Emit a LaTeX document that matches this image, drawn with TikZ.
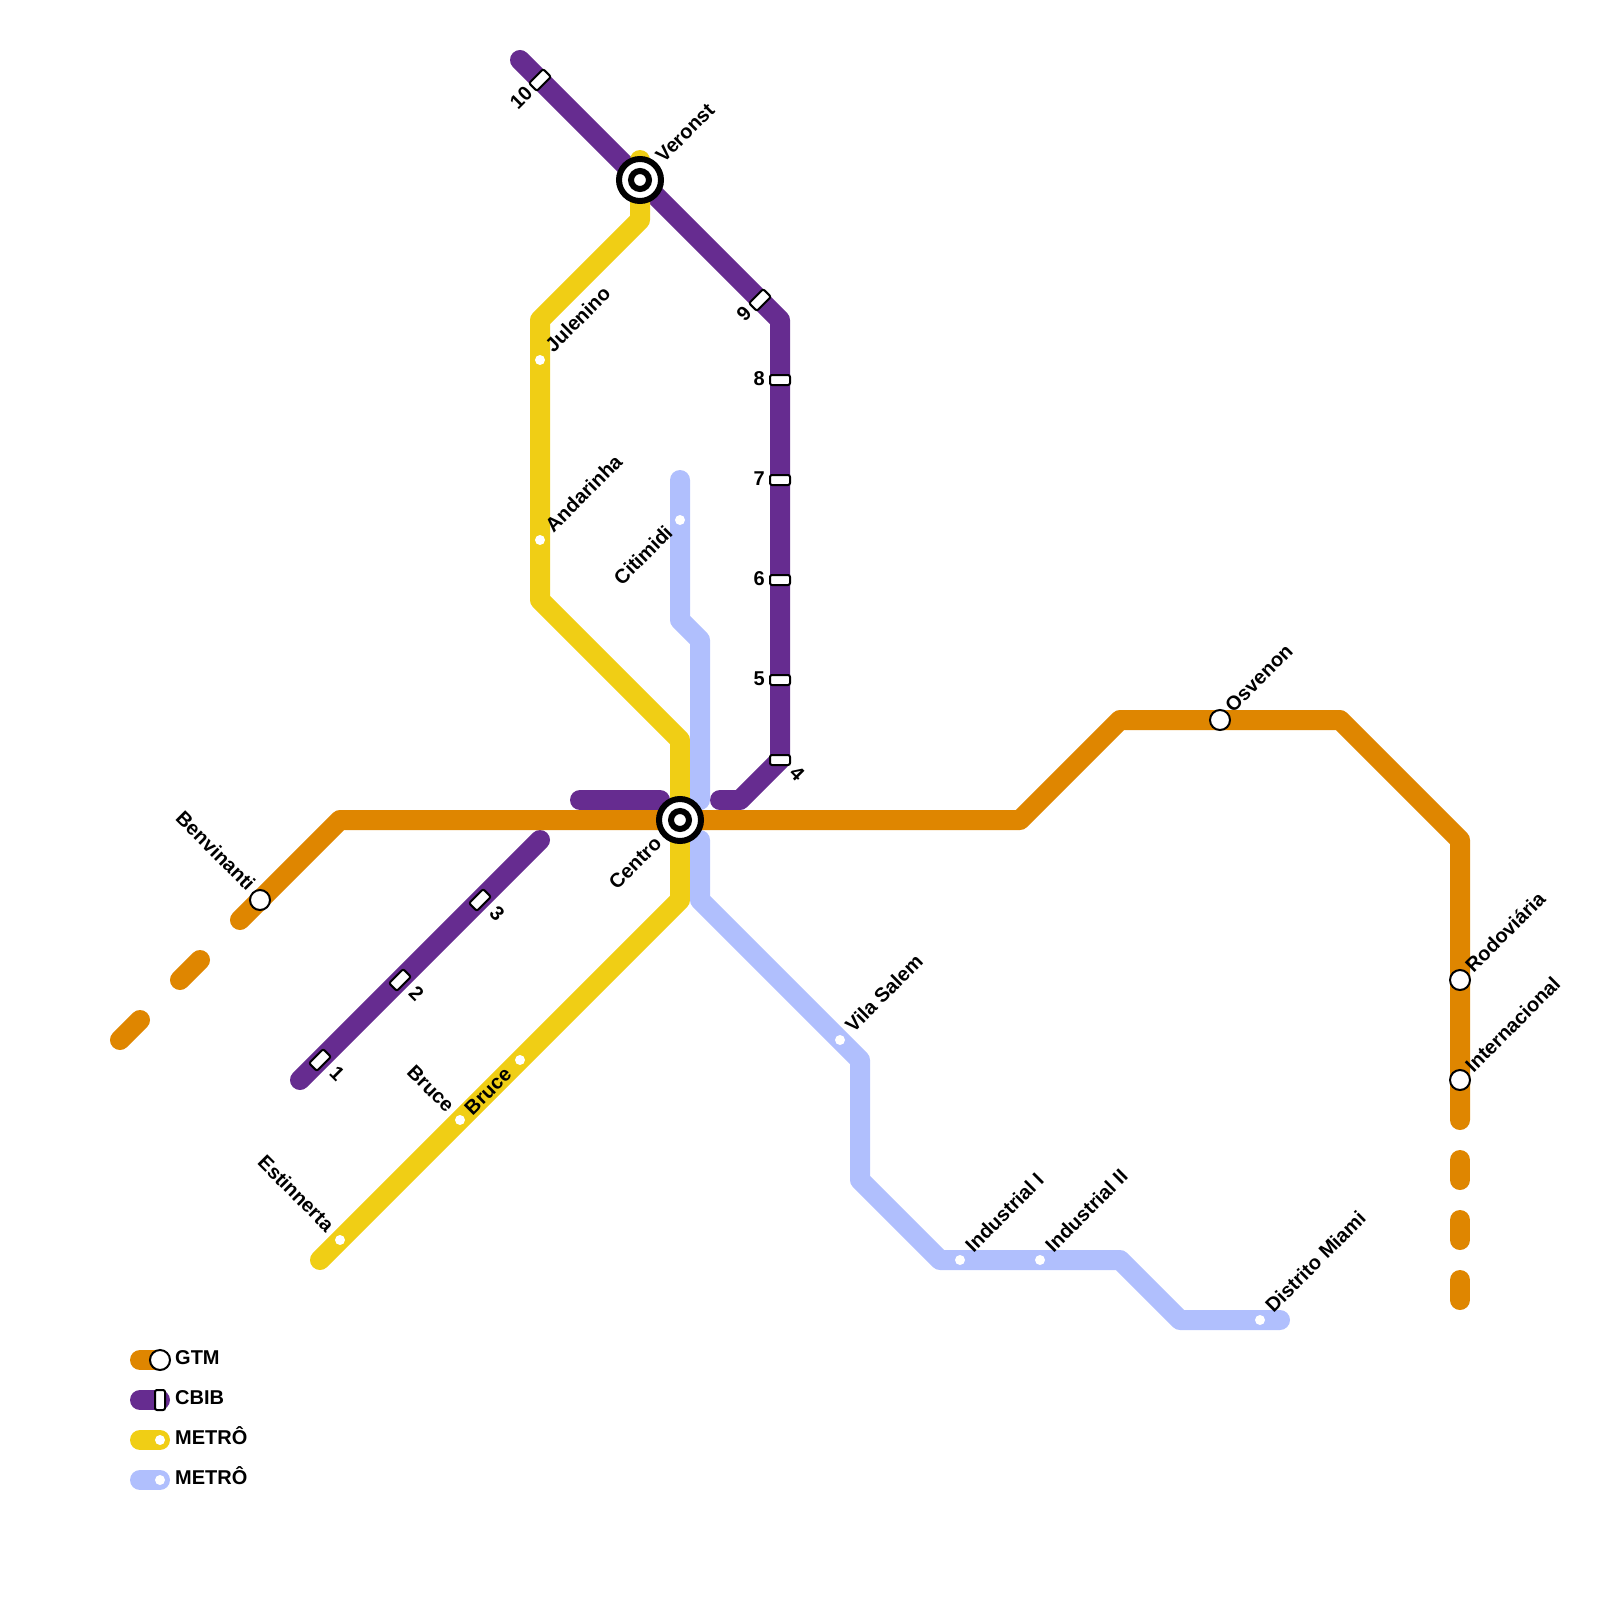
\documentclass[tikz,border=0pt]{standalone}
\usepackage{fontspec}
\setmainfont{Liberation Sans}
\definecolor{gtmcol}{HTML}{DF8600}
\definecolor{cbibcol}{HTML}{662C90}
\definecolor{metrocol}{HTML}{F0CE15}
\definecolor{metrobcol}{HTML}{B0BFFD}
\tikzset{
  track/.style={line width=20pt, line cap=round, line join=round},
  txt/.style={inner sep=0pt, font=\fontsize{20}{22}\selectfont\bfseries},
  up/.style={txt, rotate=45, anchor=west},
  upend/.style={txt, rotate=45, anchor=east},
  downend/.style={txt, rotate=-45, anchor=east},
  down/.style={txt, rotate=-45, anchor=west},
  dot/.style={circle, fill=white, inner sep=0pt, minimum size=10pt},
  ringstop/.style={circle, fill=white, draw=black, line width=2pt, inner sep=0pt, minimum size=20pt},
  bar/.style={rectangle, fill=white, draw=black, line width=2pt, rounded corners=2pt,
    inner sep=0pt, minimum width=20pt, minimum height=10pt},
  hubout/.style={circle, fill=white, draw=black, line width=6pt, inner sep=0pt, minimum size=42pt},
  hubin/.style={circle, fill=white, draw=black, line width=6pt, inner sep=0pt, minimum size=18pt},
}
\begin{document}
\begin{tikzpicture}[x=20pt, y=-20pt]
  \useasboundingbox (0,0) rectangle (80,80);
  \draw[track, cbibcol] (26,3) -- (39,16) -- (39,38) -- (37,40) -- (36,40);
  \draw[track, cbibcol] (29,40) -- (33,40);
  \draw[track, cbibcol] (15,54) -- (27,42);
  \draw[track, metrocol] (32,8) -- (32,11) -- (27,16) -- (27,30) -- (34,37) -- (34,45) -- (16,63);
  \draw[track, metrobcol] (34,24) -- (34,31) -- (35,32) -- (35,40);
  \draw[track, metrobcol] (35,42) -- (35,45) -- (43,53) -- (43,59) -- (47,63) -- (56,63) -- (59,66) -- (64,66);
  \draw[track, gtmcol] (6,52) -- (7,51);
  \draw[track, gtmcol] (9,49) -- (10,48);
  \draw[track, gtmcol] (12,46) -- (17,41) -- (51,41) -- (56,36) -- (67,36) -- (73,42) -- (73,56);
  \foreach \y in {58, 61, 64} \draw[track, gtmcol] (73,\y) -- (73,\y+1);
  % stops
  \foreach \x/\y/\n in {27/18/julenino, 27/27/andarinha, 34/26/citimidi, 26/53/brucea, 23/56/bruceb,
      17/62/estinnerta, 42/52/vilasalem, 48/63/industriala, 52/63/industrialb, 63/66/distrito}
    \node[dot] (\n) at (\x,\y) {};
  \foreach \x/\y/\n in {13/45/benvinanti, 61/36/osvenon, 73/49/rodoviaria, 73/54/internacional}
    \node[ringstop] (\n) at (\x,\y) {};
  \foreach \y/\n in {19/eight, 24/seven, 29/six, 34/five, 38/four}
    \node[bar] (\n) at (39,\y) {};
  \foreach \x/\y/\n in {27/4/ten, 38/15/nine, 24/45/three, 20/49/two, 16/53/one}
    \node[bar, rotate=45, minimum height=11pt] (\n) at (\x,\y) {};
  \foreach \x/\y/\n in {32/9/veronst, 34/41/centro} {
    \node[hubout] (\n) at (\x,\y) {};
    \node[hubin] (\n in) at (\x,\y) {};
  }
  % names
  \node[up] (veronstname) at (32.95,7.95) {Veronst};
  \node[up] (juleninoname) at (27.42,17.42) {Julenino};
  \node[up] (andarinhaname) at (27.42,26.42) {Andarinha};
  \node[up] (vilasalemname) at (42.42,51.42) {Vila Salem};
  \node[up] (industrialaname) at (48.42,62.42) {Industrial I};
  \node[up] (industrialbname) at (52.42,62.42) {Industrial II};
  \node[up] (distritoname) at (63.42,65.42) {Distrito Miami};
  \node[up] (osvenonname) at (61.42,35.42) {Osvenon};
  \node[up] (rodoviarianame) at (73.42,48.42) {Rodoviária};
  \node[up] (internacionalname) at (73.42,53.42) {Internacional};
  \node[upend] (citimidiname) at (33.45,26.45) {Citimidi};
  \node[upend] (centroname) at (32.9,42) {Centro};
  \node[upend] (bruceaname) at (25.4,53.55) {Bruce};
  \node[upend] (tenname) at (26.45,4.5) {10};
  \node[upend] (ninename) at (37.4,15.5) {9};
  \node[downend] (benvinantiname) at (12.6,44.35) {Benvinanti};
  \node[downend] (brucebname) at (22.55,55.45) {Bruce};
  \node[downend] (estinnertaname) at (16.55,61.4) {Estinnerta};
  \node[down] (onename) at (16.65,53.45) {1};
  \node[down] (twoname) at (20.62,49.45) {2};
  \node[down] (threename) at (24.65,45.45) {3};
  \node[down] (fourname) at (39.65,38.45) {4};
  \foreach \y/\t in {19/8, 24/7, 29/6, 34/5}
    \node[txt, anchor=east] (num\t) at (38.25,\y-0.05) {\t};
  % legend
  \foreach \y/\c in {68/gtmcol, 70/cbibcol, 72/metrocol, 74/metrobcol}
    \draw[track, \c] (7,\y) -- (8,\y);
  \node[ringstop] (keygtm) at (8,68) {};
  \node[bar, rotate=90] (keycbib) at (8,70) {};
  \node[dot] (keymetro) at (8,72) {};
  \node[dot] (keymetrob) at (8,74) {};
  \foreach \y/\t/\n in {68/GTM/a, 70/CBIB/b, 72/METRÔ/c, 74/METRÔ/d}
    \node[txt, anchor=base west] (keytext\n) at (8.75,\y+0.22) {\t};
\end{tikzpicture}
\end{document}
